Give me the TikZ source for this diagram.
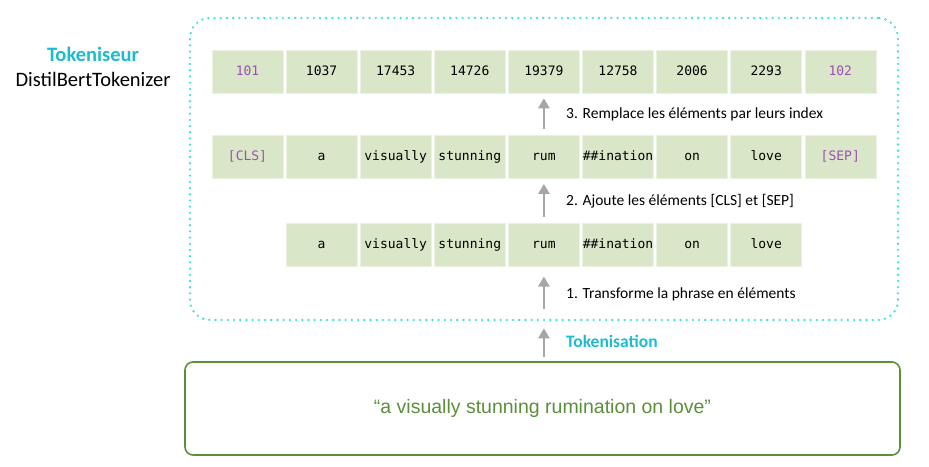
\documentclass[tikz,border=0pt]{standalone}
\usepackage{xcolor}
\usepackage{fontspec}
\setmainfont{Carlito}
\setmonofont{DejaVu Sans Mono}
\newfontfamily\quotefont{Liberation Sans}
\usepackage{tikz}
\usetikzlibrary{arrows.meta,positioning}
\definecolor{TokCell}{HTML}{D9E6C7}
\definecolor{TokSpecial}{HTML}{9E4FB3}
\definecolor{TokCyan}{HTML}{1CBCCF}
\definecolor{TokDots}{HTML}{3FE3DA}
\definecolor{TokGreen}{HTML}{5B8F3A}
\definecolor{TokArrow}{HTML}{A6A6A6}

\begin{document}
\begin{tikzpicture}[x=1pt, y=-1pt, node distance=2.5pt,
  tokcell/.style={fill=TokCell, draw=TokCell!55!white, line width=0.6pt, minimum width=71pt, minimum height=43pt,
    inner sep=0pt, text height=9.5pt, text depth=2.5pt, font=\ttfamily\fontsize{13}{15}\selectfont},
  special/.style={text=TokSpecial},
  steparrow/.style={-{Triangle[length=10pt, width=11pt]}, TokArrow, line width=2.6pt,
    shorten <=6pt, shorten >=5pt},
  steplabel/.style={anchor=west, inner sep=0pt, xshift=21pt, text=black, font=\fontsize{15.5}{18}\selectfont}]
  \useasboundingbox (0,0) rectangle (929,466);

  % zone du tokeniseur
  \node[draw=TokDots, line width=2.6pt, line cap=round, dash pattern=on 0pt off 6.2pt,
    rounded corners=20pt, minimum width=708pt, minimum height=302pt] (tokzone) at (544,169) {};
  \node[align=center, font=\fontsize{20.5}{25}\selectfont] (tokname) at (93,67)
    {\textcolor{TokCyan}{\textbf{Tokeniseur}}\\DistilBertTokenizer};

  % les trois rangees d'elements
  \node[tokcell, special] (r1c1) at (247.5,71.5) {101};
  \node[tokcell, special, below=42pt of r1c1] (r2c1) {[CLS]};
  \foreach \id/\word [count=\c from 2] in {1037/a, 17453/visually, 14726/stunning, 19379/rum,
      12758/\#\#ination, 2006/on, 2293/love} {
    \pgfmathtruncatemacro\p{\c-1}
    \node[tokcell, right=of r1c\p] (r1c\c) {\id};
    \node[tokcell, below=42pt of r1c\c] (r2c\c) {\word};
    \node[tokcell, below=44pt of r2c\c] (r3c\c) {\word};
  }
  \node[tokcell, special, right=of r1c8] (r1c9) {102};
  \node[tokcell, special, below=42pt of r1c9] (r2c9) {[SEP]};

  % phrase d'entree
  \node[draw=TokGreen, line width=1.6pt, rounded corners=8pt, minimum width=715pt, minimum height=93pt,
    text=TokGreen, font=\quotefont\fontsize{19.5}{22}\selectfont] (sentence) at (542.5,408.5)
    {“a visually stunning rumination on love”};

  % etapes
  \coordinate (zonebottom) at (tokzone.south -| r3c5);
  \draw[steparrow, shorten <=12pt, shorten >=10pt] (zonebottom) -- node[steplabel] {1. Transforme la phrase en éléments} (r3c5);
  \draw[steparrow] (r3c5) -- node[steplabel] {2. Ajoute les éléments [CLS] et [SEP]} (r2c5);
  \draw[steparrow] (r2c5) -- node[steplabel] {3. Remplace les éléments par leurs index} (r1c5);
  \draw[steparrow, shorten <=4pt, shorten >=7pt] (sentence.north -| r3c5) -- node[steplabel, font=\bfseries\fontsize{17.5}{20}\selectfont, text=TokCyan] {Tokenisation} (zonebottom);
\end{tikzpicture}
\end{document}
